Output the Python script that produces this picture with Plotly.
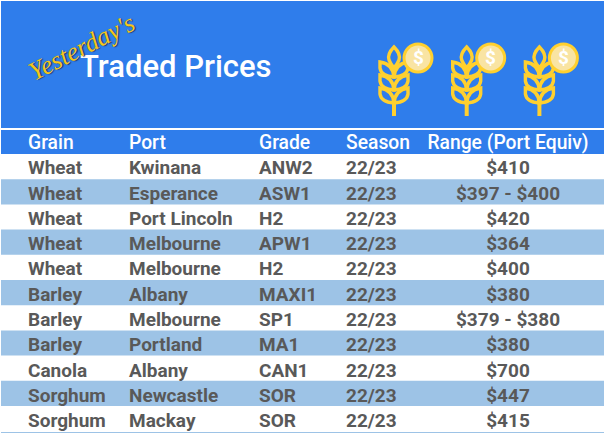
import plotly.graph_objects as go

W = 604
H = 434
BLUE = "#2F7DEB"
BAND = "#9DC3E6"
TEXT = "#595959"
GOLD = "#FFD02F"

headers = ["Grain", "Port", "Grade", "Season", "Range (Port Equiv)"]
grain = ["Wheat", "Wheat", "Wheat", "Wheat", "Wheat", "Barley", "Barley", "Barley", "Canola", "Sorghum", "Sorghum"]
port = ["Kwinana", "Esperance", "Port Lincoln", "Melbourne", "Melbourne", "Albany", "Melbourne", "Portland", "Albany", "Newcastle", "Mackay"]
grade = ["ANW2", "ASW1", "H2", "APW1", "H2", "MAXI1", "SP1", "MA1", "CAN1", "SOR", "SOR"]
season = ["22/23"] * 11
price_range = ["$410", "$397 - $400", "$420", "$364", "$400", "$380", "$379 - $380", "$380", "$700", "$447", "$415"]

blank = [""] * 11


def px_x(x):
    return x / W


def px_y(y):
    return 1 - y / H


def path(cmds):
    # cmds are in pixels from the top left, shapes want paper fractions
    out = []
    for c in cmds:
        if c[0] == "Z":
            out.append("Z")
        else:
            nums = c[1:]
            pts = [f"{px_x(nums[i]):.5f},{px_y(nums[i + 1]):.5f}" for i in range(0, len(nums), 2)]
            out.append(c[0] + " " + " ".join(pts))
    return " ".join(out)


def rect(x0, y0, x1, y1, color):
    return dict(type="rect", xref="paper", yref="paper", layer="below", line=dict(width=0), fillcolor=color,
                x0=px_x(x0), x1=px_x(x1), y0=px_y(y1), y1=px_y(y0))


def wheat_icon(dx):
    shapes = []
    cx = 394 + dx
    line = dict(color=GOLD, width=3.4)
    # stem
    shapes.append(dict(type="path", xref="paper", yref="paper", line=dict(color=GOLD, width=4),
                       path=path([("M", cx, 100), ("L", cx, 116)])))
    # top leaf
    shapes.append(dict(type="path", xref="paper", yref="paper", line=line,
                       path=path([("M", cx, 47), ("Q", cx - 7, 54, cx - 5, 60), ("Q", cx - 3, 65, cx, 68),
                                  ("Q", cx + 3, 65, cx + 5, 60), ("Q", cx + 7, 54, cx, 47), ("Z",)])))
    # side leaves
    for y in (62, 75, 88):
        for side in (-1, 1):
            shapes.append(dict(type="path", xref="paper", yref="paper", line=line,
                               path=path([("M", cx + side * 14, y), ("L", cx + side * 14, y + 6),
                                          ("Q", cx + side * 13, y + 14, cx, y + 15),
                                          ("Q", cx + side * 1, y + 2, cx + side * 14, y), ("Z",)])))
    # coin
    coin_x = 418 + dx
    shapes.append(dict(type="circle", xref="paper", yref="paper", fillcolor=GOLD, line=dict(width=0),
                       x0=px_x(coin_x - 15.5), x1=px_x(coin_x + 15.5), y0=px_y(58 + 15.5), y1=px_y(58 - 15.5)))
    shapes.append(dict(type="circle", xref="paper", yref="paper", fillcolor="#F9E4A3", line=dict(width=0),
                       x0=px_x(coin_x - 12.5), x1=px_x(coin_x + 12.5), y0=px_y(58 + 12.5), y1=px_y(58 - 12.5)))
    return shapes


# table text sits a bit low in its cells, so the table is moved up
# and the row bands are drawn behind it instead of as cell fills
fig = go.Figure(
    go.Table(
        domain=dict(x=[0, 1], y=[px_y(431), px_y(127)]),
        columnwidth=[20, 101, 130, 87, 74, 192],
        header=dict(
            values=[""] + headers,
            fill_color="rgba(0,0,0,0)",
            line=dict(width=0),
            align=["left"] * 5 + ["center"],
            font=dict(family="Roboto", size=19.3, color="white", weight=500),
            height=25,
        ),
        cells=dict(
            values=[blank, grain, port, grade, season, price_range],
            fill_color="rgba(0,0,0,0)",
            line=dict(width=0),
            align=["left"] * 5 + ["center"],
            font=dict(family="Roboto", size=19, color=TEXT, weight=700),
            height=25.3,
        ),
    )
)

shapes = [
    rect(1, 1, W, 128, BLUE),
    rect(1, 130, W, 154, BLUE),
    dict(type="line", xref="paper", yref="paper", x0=px_x(1), x1=1, y0=px_y(432.5), y1=px_y(432.5),
         line=dict(color=BAND, width=1)),
]
for i in range(1, 11, 2):
    shapes.append(rect(1, 154 + 25.2 * i, W, 154 + 25.2 * (i + 1), BAND))

annotations = [
    dict(text="Traded Prices", x=px_x(176), y=px_y(66), xref="paper", yref="paper", showarrow=False,
         xanchor="center", yanchor="middle",
         font=dict(family="Roboto", size=31, color="white", weight=500)),
    dict(text="<i>Yesterday's</i>", x=px_x(81), y=px_y(47), xref="paper", yref="paper", showarrow=False,
         xanchor="center", yanchor="middle", textangle=-27,
         font=dict(family="Liberation Serif", size=26, color="#F5C71A",
                   shadow="1px 1px 1px #1F3864")),
]
for dx in (0, 72.7, 145.4):
    shapes += wheat_icon(dx)
    annotations.append(dict(text="$", x=px_x(418 + dx), y=px_y(58), xref="paper", yref="paper", showarrow=False,
                            xanchor="center", yanchor="middle",
                            font=dict(family="Roboto", size=19, color="white", weight=700)))

fig.update_layout(
    width=W,
    height=H,
    margin=dict(l=0, r=0, t=0, b=0),
    paper_bgcolor="white",
    shapes=shapes,
    annotations=annotations,
)
# default page margin pushes the figure 8px off
fig.write_html("out.html", config=dict(displayModeBar=False), post_script="document.body.style.margin='0';")
